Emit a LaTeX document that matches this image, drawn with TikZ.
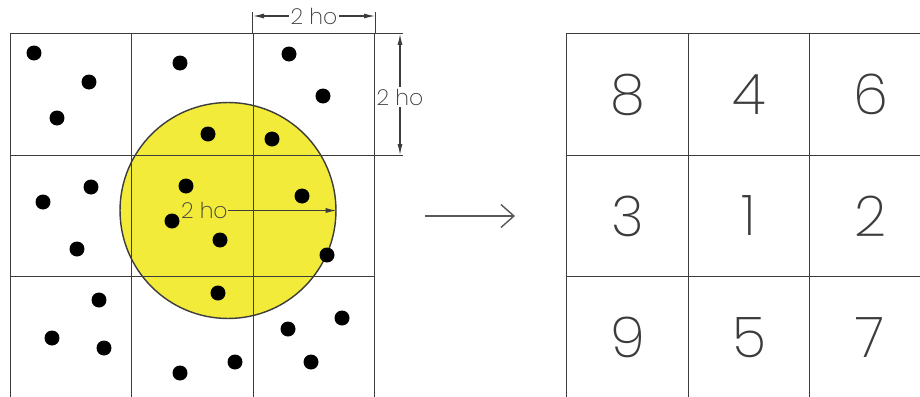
\documentclass[tikz,border=0pt]{standalone}
\usepackage{fontspec}
\newfontfamily\cadfont{Poppins}[UprightFont={* ExtraLight}]
\usetikzlibrary{arrows.meta,positioning}
\definecolor{zoneyellow}{RGB}{242,235,58}
\definecolor{linegray}{RGB}{60,60,60}

\begin{document}
\begin{tikzpicture}[x=0.02cm,y=-0.02cm]
\tikzset{
  cell/.style={rectangle,draw=linegray,line width=0.8pt,minimum size=2.43cm,inner sep=0pt},
  numcell/.style={cell,font=\cadfont\fontsize{32}{38}\selectfont,text=linegray},
  particle/.style={circle,fill=black,minimum size=0.3cm,inner sep=0pt},
  region/.style={circle,fill=zoneyellow,draw=linegray,line width=0.8pt,minimum size=4.32cm,inner sep=0pt},
  dimline/.style={-{Latex[length=2.2mm,width=1mm]},line width=0.6pt,draw=linegray},
  extline/.style={line width=0.6pt,draw=linegray},
  dimtext/.style={font=\cadfont\fontsize{12.5}{14}\selectfont,text=linegray,inner sep=1pt},
  maparrow/.style={-{Straight Barb[length=2.6mm,width=4.6mm]},line width=0.8pt,draw=linegray!85}
}
\useasboundingbox (0,0) rectangle (920,396);
\clip (0,0) rectangle (920,396);
% search circle
\node[region] (n_zone) at (228,210.5) {};
% left grid
\node[cell] (n_L11) at (71,94.5) {};
\node[cell] (n_L12) at (192.5,94.5) {};
\node[cell] (n_L13) at (314,94.5) {};
\node[cell] (n_L21) at (71,216) {};
\node[cell] (n_L22) at (192.5,216) {};
\node[cell] (n_L23) at (314,216) {};
\node[cell] (n_L31) at (71,337.5) {};
\node[cell] (n_L32) at (192.5,337.5) {};
\node[cell] (n_L33) at (314,337.5) {};
% particles
\node[particle] (n_p1) at (34,53) {};
\node[particle] (n_p2) at (89,82) {};
\node[particle] (n_p3) at (57,118) {};
\node[particle] (n_p4) at (180,63) {};
\node[particle] (n_p5) at (289,54) {};
\node[particle] (n_p6) at (323,96) {};
\node[particle] (n_p7) at (208,134) {};
\node[particle] (n_p8) at (272,139) {};
\node[particle] (n_p9) at (186,186) {};
\node[particle] (n_p10) at (91,187) {};
\node[particle] (n_p11) at (43,202) {};
\node[particle] (n_p12) at (302,196) {};
\node[particle] (n_p13) at (172,221) {};
\node[particle] (n_p14) at (220,240) {};
\node[particle] (n_p15) at (77,249) {};
\node[particle] (n_p16) at (327,255) {};
\node[particle] (n_p17) at (99,300) {};
\node[particle] (n_p18) at (218,293) {};
\node[particle] (n_p19) at (52,338) {};
\node[particle] (n_p20) at (104,348) {};
\node[particle] (n_p21) at (288,329) {};
\node[particle] (n_p22) at (342,318) {};
\node[particle] (n_p23) at (235,362) {};
\node[particle] (n_p24) at (180,373) {};
\node[particle] (n_p25) at (311,362) {};
% radius
\node[dimtext,anchor=east,inner sep=0pt] (n_rlabel) at (n_zone.center) {2 ho};
\draw[dimline] (n_zone.center) -- (n_zone.east);
% cell size dimensions
\draw[extline] (n_L13.north west) -- ++(0,-21);
\draw[extline] (n_L13.north east) -- ++(0,-21);
\draw[extline] (n_L13.north east) -- ++(28,0);
\draw[extline] (n_L13.south east) -- ++(28,0);
\coordinate (n_dimT1) at (253,16);
\coordinate (n_dimT2) at (375,16);
\coordinate (n_dimR1) at (400,34);
\coordinate (n_dimR2) at (400,155);
\node[dimtext] (n_hlabel) at (314,16) {2 ho};
\node[dimtext,fill=white] (n_vlabel) at (400,97) {2 ho};
\draw[dimline] (n_hlabel) -- (n_dimT1);
\draw[dimline] (n_hlabel) -- (n_dimT2);
\draw[dimline] (n_vlabel) -- (n_dimR1);
\draw[dimline] (n_vlabel) -- (n_dimR2);
% mapping arrow
\coordinate (n_src) at (425,216);
\coordinate (n_dst) at (515,216);
\draw[maparrow] (n_src) -- (n_dst);
% numbered grid
\node[numcell] (n_R8) at (627.5,94.5) {8};
\node[numcell] (n_R4) at (749,94.5) {4};
\node[numcell] (n_R6) at (870.5,94.5) {6};
\node[numcell] (n_R3) at (627.5,216) {3};
\node[numcell] (n_R1) at (749,216) {1};
\node[numcell] (n_R2) at (870.5,216) {2};
\node[numcell] (n_R9) at (627.5,337.5) {9};
\node[numcell] (n_R5) at (749,337.5) {5};
\node[numcell] (n_R7) at (870.5,337.5) {7};
\end{tikzpicture}
\end{document}
